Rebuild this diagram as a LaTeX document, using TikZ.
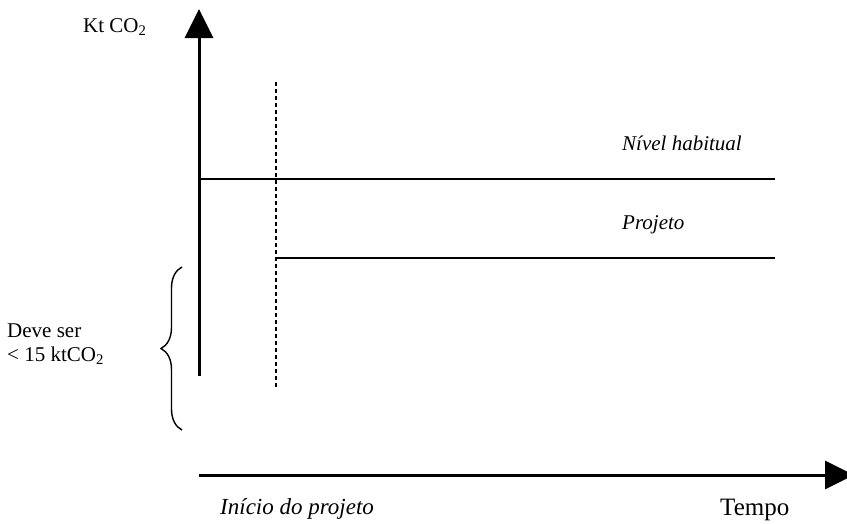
\documentclass[tikz,border=0pt]{standalone}
\usepackage{fontspec}
\setmainfont{Liberation Serif}
\usetikzlibrary{arrows.meta,decorations.pathreplacing}

\begin{document}
\begin{tikzpicture}[x=1pt, y=-1pt,
		axis/.style={line width=3pt, -{Triangle[length=29pt,width=28pt]}},
		level/.style={line width=1.5pt},
		txt/.style={inner sep=0pt, anchor=base west, font=\fontsize{21}{24}\selectfont},
		itxt/.style={txt, font=\fontsize{21}{24}\selectfont\itshape}]
			%%%%% START %%%%%
			\useasboundingbox (0, 0) rectangle (847, 523);
			
			\coordinate (yfoot) at (199, 376);
			\coordinate (ytip) at (199, 9);
			\coordinate (xfoot) at (199, 475);
			\coordinate (xtip) at (854, 475);
			\draw[axis] (yfoot) -- (ytip);
			\draw[axis] (xfoot) -- (xtip);
			
			\coordinate (usualL) at (199, 179);
			\coordinate (usualR) at (775, 179);
			\draw[level] (usualL) -- (usualR);
			
			\coordinate (projL) at (276, 258);
			\coordinate (projR) at (775, 258);
			\draw[level] (projL) -- (projR);
			
			\coordinate (startT) at (276, 82);
			\coordinate (startB) at (276, 387);
			\draw[line width=1.7pt, dash pattern=on 4pt off 3pt] (startT) -- (startB);
			
			\coordinate (braceB) at (182, 430);
			\coordinate (braceT) at (182, 267);
			\draw[line width=1.4pt, decorate, decoration={brace, amplitude=21pt}] (braceB) -- (braceT);
			
			\node[txt] (ylabel) at (83, 32) {Kt CO\textsubscript{2}};
			\node[itxt] (usual) at (622, 150) {Nível habitual};
			\node[itxt] (proj) at (622, 229) {Projeto};
			\node[txt] (limit1) at (7, 337) {Deve ser};
			\node[txt] (limit2) at (7, 361) {< 15 ktCO\textsubscript{2}};
			\node[itxt, font=\fontsize{23}{25}\selectfont\itshape] (start) at (220, 514) {Início do projeto};
			\node[txt, font=\fontsize{25}{27}\selectfont] (xlabel) at (720, 515) {Tempo};
			
			%%%%% END %%%%%
\end{tikzpicture}
\end{document}
